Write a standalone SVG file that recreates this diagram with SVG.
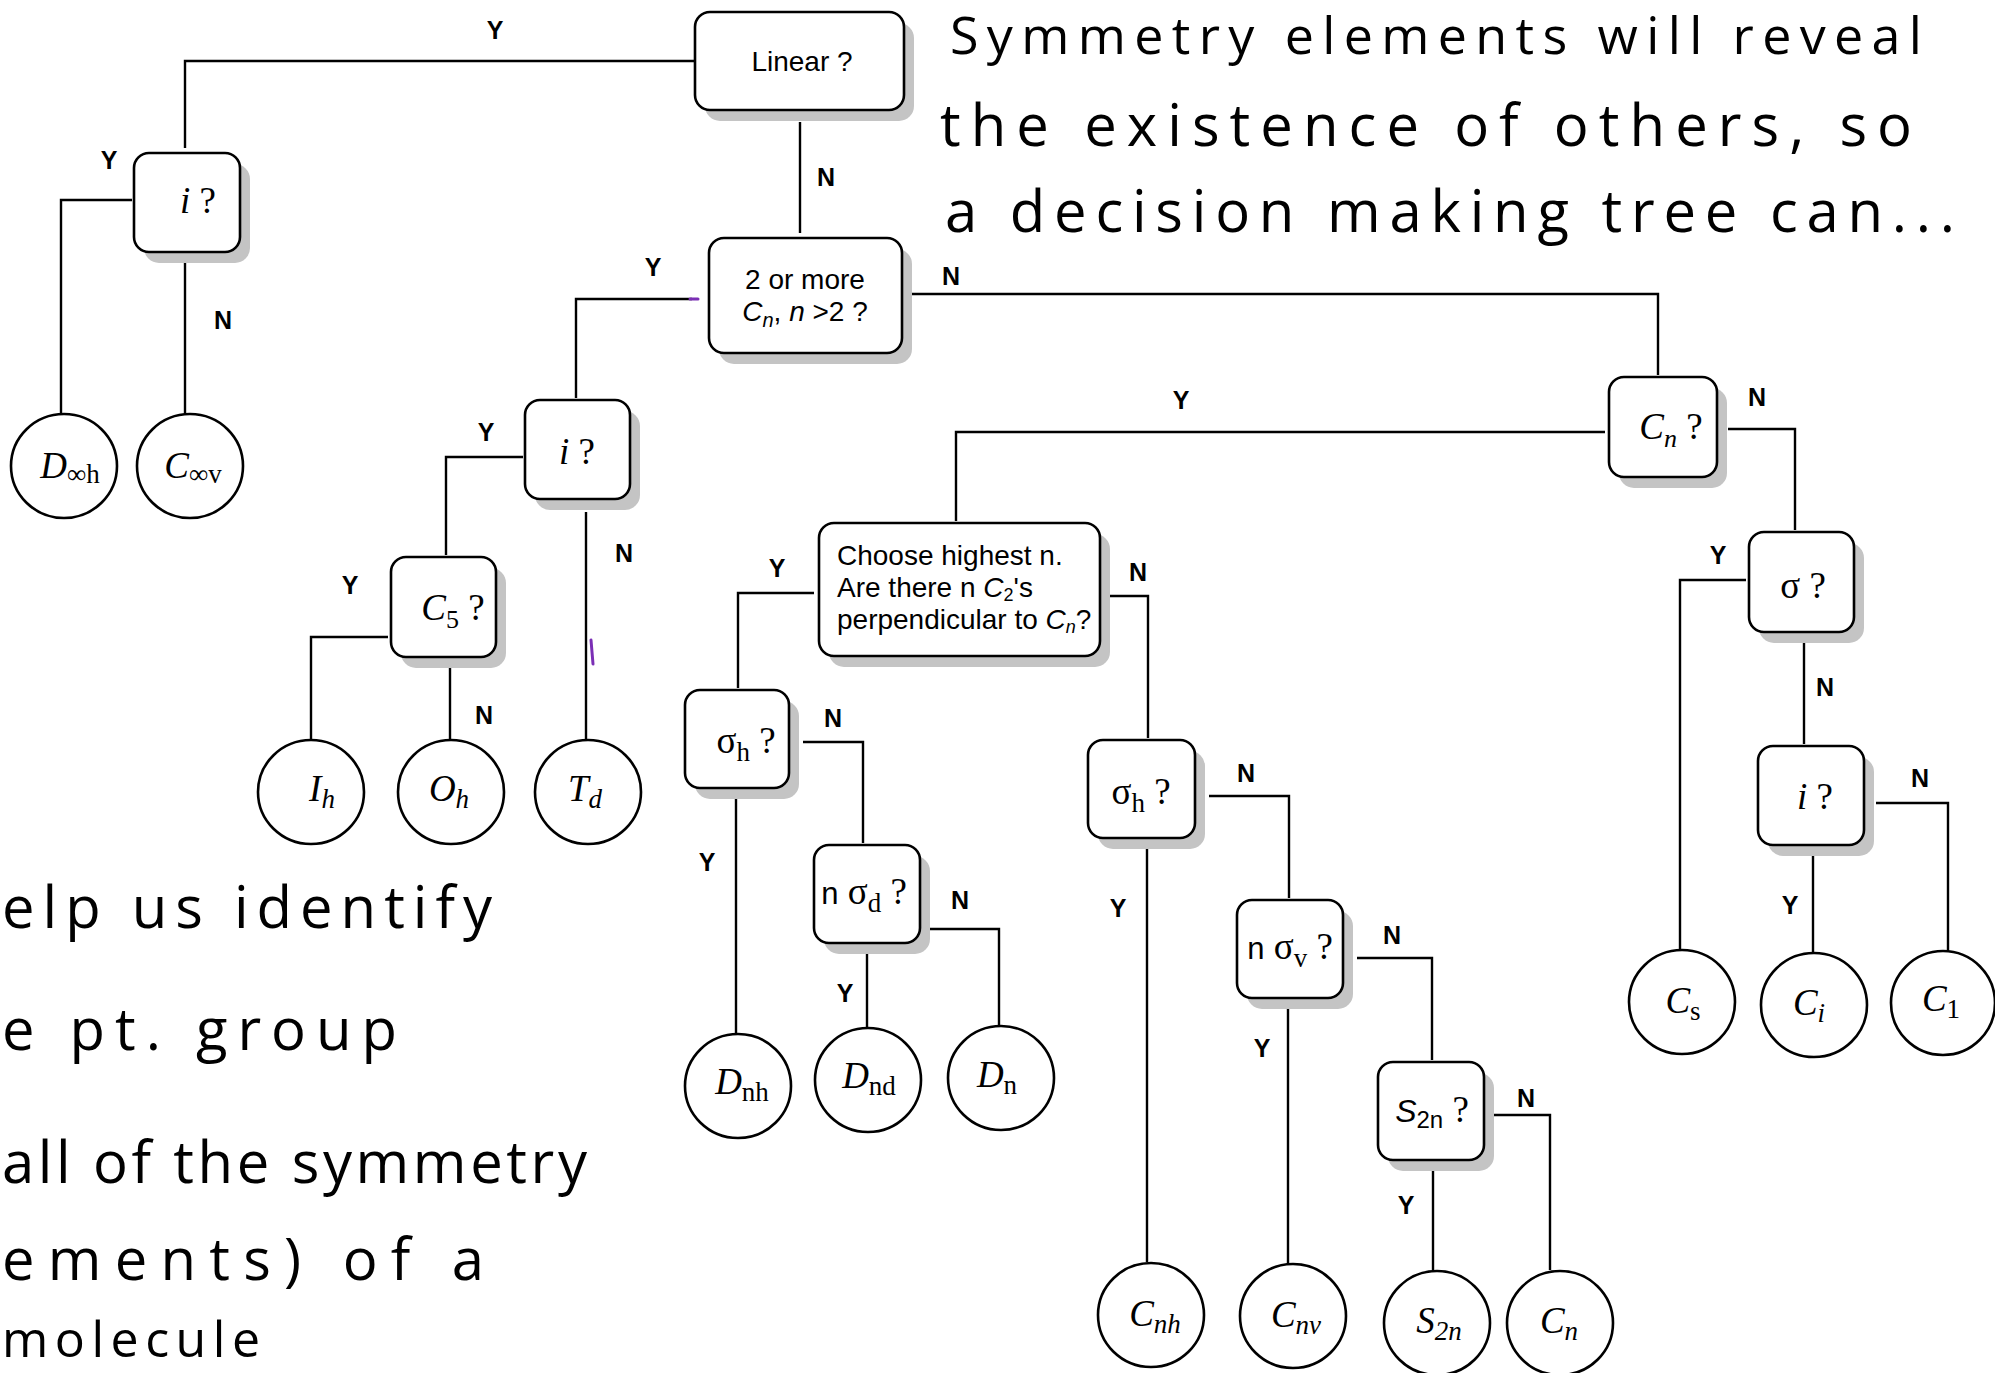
<svg xmlns="http://www.w3.org/2000/svg" width="1995" height="1373" viewBox="0 0 1995 1373">
<style>
  .b { fill:#fff; stroke:#000; stroke-width:2.6; }
  .sh { fill:#c4c4c4; }
  .c { fill:#fff; stroke:#000; stroke-width:2.6; }
  .conn path { fill:none; stroke:#000; stroke-width:2.4; }
  .yn { font-family:"Liberation Sans", Arial, sans-serif; font-weight:bold; font-size:25px; text-anchor:middle; fill:#000; }
  .s { font-family:"Liberation Sans", Arial, sans-serif; font-size:28px; fill:#000; }
  .m { font-family:"Liberation Serif", "Times New Roman", serif; font-size:37px; text-anchor:middle; fill:#000; }
  .it { font-style:italic; }
  .hand { font-family:"Open Sans", "DejaVu Sans", sans-serif; font-weight:400; font-size:58px; fill:#000; }
  .mark { stroke:#7b2fb5; stroke-width:3; fill:none; stroke-linecap:round; }
</style>

<g id="connectors" class="conn">
  <path d="M694,61 H185 V148"/>
  <path d="M800,122 V233"/>
  <path d="M132,200 H61 V413"/>
  <path d="M185,259 V413"/>
  <path d="M692,299 H576 V398"/>
  <path d="M904,294 H1658 V375"/>
  <path d="M523,457 H446 V555"/>
  <path d="M586,512 V740"/>
  <path d="M388,637 H311 V740"/>
  <path d="M450,667 V740"/>
  <path d="M1605,432 H956 V521"/>
  <path d="M1728,429 H1795 V530"/>
  <path d="M814,593 H738 V688"/>
  <path d="M1109,596 H1148 V738"/>
  <path d="M736,799 V1033"/>
  <path d="M803,742 H863 V843"/>
  <path d="M867,953 V1027"/>
  <path d="M925,929 H999 V1025"/>
  <path d="M1147,849 V1262"/>
  <path d="M1209,796 H1289 V898"/>
  <path d="M1288,1005 V1263"/>
  <path d="M1357,958 H1432 V1060"/>
  <path d="M1433,1170 V1270"/>
  <path d="M1493,1115 H1550 V1270"/>
  <path d="M1746,580 H1680 V950"/>
  <path d="M1804,643 V744"/>
  <path d="M1813,852 V953"/>
  <path d="M1876,803 H1948 V950"/>
  <line class="mark" x1="690" y1="299" x2="698" y2="299"/>
  <line class="mark" x1="591" y1="640" x2="593" y2="664"/>
  <text class="yn" x="495" y="39">Y</text>
  <text class="yn" x="826" y="186">N</text>
  <text class="yn" x="109" y="169">Y</text>
  <text class="yn" x="223" y="329">N</text>
  <text class="yn" x="653" y="276">Y</text>
  <text class="yn" x="951" y="285">N</text>
  <text class="yn" x="486" y="441">Y</text>
  <text class="yn" x="624" y="562">N</text>
  <text class="yn" x="350" y="594">Y</text>
  <text class="yn" x="484" y="724">N</text>
  <text class="yn" x="1181" y="409">Y</text>
  <text class="yn" x="1757" y="406">N</text>
  <text class="yn" x="777" y="577">Y</text>
  <text class="yn" x="1138" y="581">N</text>
  <text class="yn" x="707" y="871">Y</text>
  <text class="yn" x="833" y="727">N</text>
  <text class="yn" x="845" y="1002">Y</text>
  <text class="yn" x="960" y="909">N</text>
  <text class="yn" x="1118" y="917">Y</text>
  <text class="yn" x="1246" y="782">N</text>
  <text class="yn" x="1262" y="1057">Y</text>
  <text class="yn" x="1392" y="944">N</text>
  <text class="yn" x="1406" y="1214">Y</text>
  <text class="yn" x="1526" y="1107">N</text>
  <text class="yn" x="1718" y="564">Y</text>
  <text class="yn" x="1825" y="696">N</text>
  <text class="yn" x="1790" y="914">Y</text>
  <text class="yn" x="1920" y="787">N</text>
</g>

<!-- decision boxes -->
<g id="linear">
  <rect class="sh" x="705" y="23" width="209" height="98" rx="15"/>
  <rect class="b" x="695" y="12" width="209" height="98" rx="15"/>
  <text class="s" x="802" y="71" text-anchor="middle">Linear ?</text>
</g>
<g id="i-linear">
  <rect class="sh" x="144" y="164" width="106" height="99" rx="15"/>
  <rect class="b" x="134" y="153" width="106" height="99" rx="15"/>
  <text class="m" x="198" y="213"><tspan class="it">i</tspan> ?</text>
</g>
<g id="cn-gt2">
  <rect class="sh" x="719" y="249" width="193" height="115" rx="15"/>
  <rect class="b" x="709" y="238" width="193" height="115" rx="15"/>
  <text class="s" x="805" y="289" text-anchor="middle">2 or more</text>
  <text class="s" x="805" y="321" text-anchor="middle"><tspan class="it">C</tspan><tspan class="it" font-size="20" dy="6">n</tspan><tspan dy="-6">, </tspan><tspan class="it">n</tspan> &gt;2 ?</text>
</g>
<g id="i-high">
  <rect class="sh" x="535" y="411" width="105" height="99" rx="15"/>
  <rect class="b" x="525" y="400" width="105" height="99" rx="15"/>
  <text class="m" x="577" y="464"><tspan class="it">i</tspan> ?</text>
</g>
<g id="c5">
  <rect class="sh" x="401" y="568" width="105" height="100" rx="15"/>
  <rect class="b" x="391" y="557" width="105" height="100" rx="15"/>
  <text class="m" x="453" y="620"><tspan class="it">C</tspan><tspan font-size="26" dy="8">5</tspan><tspan dy="-8"> ?</tspan></text>
</g>
<g id="cn">
  <rect class="sh" x="1619" y="388" width="108" height="100" rx="15"/>
  <rect class="b" x="1609" y="377" width="108" height="100" rx="15"/>
  <text class="m" x="1671" y="439"><tspan class="it">C</tspan><tspan class="it" font-size="26" dy="8">n</tspan><tspan dy="-8"> ?</tspan></text>
</g>
<g id="perp-c2">
  <rect class="sh" x="829" y="534" width="281" height="133" rx="15"/>
  <rect class="b" x="819" y="523" width="281" height="133" rx="15"/>
  <text class="s" x="837" y="565" font-size="27.5">Choose highest n.</text>
  <text class="s" x="837" y="597" font-size="27.5">Are there n <tspan class="it">C</tspan><tspan font-size="18" dy="4">2</tspan><tspan dy="-4">'s</tspan></text>
  <text class="s" x="837" y="629" font-size="27.5">perpendicular to <tspan class="it">C</tspan><tspan class="it" font-size="18" dy="4">n</tspan><tspan dy="-4">?</tspan></text>
</g>
<g id="sigmah-d">
  <rect class="sh" x="695" y="701" width="104" height="98" rx="15"/>
  <rect class="b" x="685" y="690" width="104" height="98" rx="15"/>
  <text class="m" x="746" y="753">σ<tspan font-size="27" dy="8">h</tspan><tspan dy="-8"> ?</tspan></text>
</g>
<g id="nsigmad">
  <rect class="sh" x="824" y="856" width="106" height="98" rx="15"/>
  <rect class="b" x="814" y="845" width="106" height="98" rx="15"/>
  <text class="m" x="864" y="904"><tspan font-family="Liberation Sans, Arial, sans-serif" font-size="31">n</tspan> σ<tspan font-size="27" dy="8">d</tspan><tspan dy="-8"> ?</tspan></text>
</g>
<g id="sigmah-c">
  <rect class="sh" x="1098" y="751" width="107" height="98" rx="15"/>
  <rect class="b" x="1088" y="740" width="107" height="98" rx="15"/>
  <text class="m" x="1141" y="804">σ<tspan font-size="27" dy="8">h</tspan><tspan dy="-8"> ?</tspan></text>
</g>
<g id="nsigmav">
  <rect class="sh" x="1247" y="911" width="106" height="98" rx="15"/>
  <rect class="b" x="1237" y="900" width="106" height="98" rx="15"/>
  <text class="m" x="1290" y="959"><tspan font-family="Liberation Sans, Arial, sans-serif" font-size="31">n</tspan> σ<tspan font-size="27" dy="8">v</tspan><tspan dy="-8"> ?</tspan></text>
</g>
<g id="s2n-q">
  <rect class="sh" x="1388" y="1073" width="106" height="98" rx="15"/>
  <rect class="b" x="1378" y="1062" width="106" height="98" rx="15"/>
  <text class="m" x="1432" y="1122"><tspan class="it" font-family="Liberation Sans, Arial, sans-serif" font-size="32">S</tspan><tspan font-family="Liberation Sans, Arial, sans-serif" font-size="24" dy="6">2n</tspan><tspan dy="-6"> ?</tspan></text>
</g>
<g id="sigma">
  <rect class="sh" x="1759" y="543" width="105" height="100" rx="15"/>
  <rect class="b" x="1749" y="532" width="105" height="100" rx="15"/>
  <text class="m" x="1803" y="598">σ ?</text>
</g>
<g id="i-low">
  <rect class="sh" x="1768" y="757" width="106" height="99" rx="15"/>
  <rect class="b" x="1758" y="746" width="106" height="99" rx="15"/>
  <text class="m" x="1815" y="809"><tspan class="it">i</tspan> ?</text>
</g>

<!-- point groups -->
<g id="Dinfh"><ellipse class="c" cx="64" cy="466" rx="53" ry="52"/><text class="m" x="70" y="478"><tspan class="it">D</tspan><tspan font-size="27" dy="5">∞h</tspan></text></g>
<g id="Cinfv"><ellipse class="c" cx="190" cy="466" rx="53" ry="52"/><text class="m" x="193" y="478"><tspan class="it">C</tspan><tspan font-size="27" dy="5">∞v</tspan></text></g>
<g id="Ih"><ellipse class="c" cx="311" cy="792" rx="53" ry="52"/><text class="m" x="322" y="801"><tspan class="it">I</tspan><tspan class="it" font-size="27" dy="7">h</tspan></text></g>
<g id="Oh"><ellipse class="c" cx="451" cy="792" rx="53" ry="52"/><text class="m" x="449" y="801"><tspan class="it">O</tspan><tspan class="it" font-size="27" dy="7">h</tspan></text></g>
<g id="Td"><ellipse class="c" cx="588" cy="792" rx="53" ry="52"/><text class="m" x="585" y="801"><tspan class="it">T</tspan><tspan class="it" font-size="27" dy="7">d</tspan></text></g>
<g id="Dnh"><ellipse class="c" cx="738" cy="1086" rx="53" ry="52"/><text class="m" x="742" y="1094"><tspan class="it">D</tspan><tspan font-size="27" dy="7">nh</tspan></text></g>
<g id="Dnd"><ellipse class="c" cx="868" cy="1080" rx="53" ry="52"/><text class="m" x="869" y="1088"><tspan class="it">D</tspan><tspan font-size="27" dy="7">nd</tspan></text></g>
<g id="Dn"><ellipse class="c" cx="1001" cy="1078" rx="53" ry="52"/><text class="m" x="997" y="1087"><tspan class="it">D</tspan><tspan font-size="27" dy="7">n</tspan></text></g>
<g id="Cnh"><ellipse class="c" cx="1151" cy="1315" rx="53" ry="52"/><text class="m" x="1155" y="1326"><tspan class="it">C</tspan><tspan class="it" font-size="27" dy="7">nh</tspan></text></g>
<g id="Cnv"><ellipse class="c" cx="1293" cy="1316" rx="53" ry="52"/><text class="m" x="1296" y="1327"><tspan class="it">C</tspan><tspan class="it" font-size="27" dy="7">nv</tspan></text></g>
<g id="S2n"><ellipse class="c" cx="1437" cy="1323" rx="53" ry="52"/><text class="m" x="1439" y="1333"><tspan class="it">S</tspan><tspan class="it" font-size="27" dy="7">2n</tspan></text></g>
<g id="Cn-pg"><ellipse class="c" cx="1560" cy="1323" rx="53" ry="52"/><text class="m" x="1559" y="1333"><tspan class="it">C</tspan><tspan class="it" font-size="27" dy="7">n</tspan></text></g>
<g id="Cs"><ellipse class="c" cx="1682" cy="1002" rx="53" ry="52"/><text class="m" x="1683" y="1013"><tspan class="it">C</tspan><tspan font-size="27" dy="7">s</tspan></text></g>
<g id="Ci"><ellipse class="c" cx="1814" cy="1005" rx="53" ry="52"/><text class="m" x="1809" y="1015"><tspan class="it">C</tspan><tspan class="it" font-size="27" dy="7">i</tspan></text></g>
<g id="C1"><ellipse class="c" cx="1943" cy="1003" rx="52" ry="52"/><text class="m" x="1941" y="1011"><tspan class="it">C</tspan><tspan font-size="27" dy="7">1</tspan></text></g>

<!-- handwritten notes -->
<g id="notes" class="hand">
  <text x="950" y="54" font-size="52" textLength="972" lengthAdjust="spacing">Symmetry elements will reveal</text>
  <text x="940" y="146" textLength="972" lengthAdjust="spacing">the existence of others, so</text>
  <text x="945" y="232" textLength="1010" lengthAdjust="spacing">a decision making tree can...</text>
  <text x="2" y="928" textLength="490" lengthAdjust="spacing">elp us identify</text>
  <text x="2" y="1050" textLength="395" lengthAdjust="spacing">e pt. group</text>
  <text x="2" y="1183" textLength="585" lengthAdjust="spacing">all of the symmetry</text>
  <text x="2" y="1280" textLength="482" lengthAdjust="spacing">ements) of a</text>
  <text x="2" y="1357" font-size="50" textLength="258" lengthAdjust="spacing">molecule</text>
</g>
</svg>
